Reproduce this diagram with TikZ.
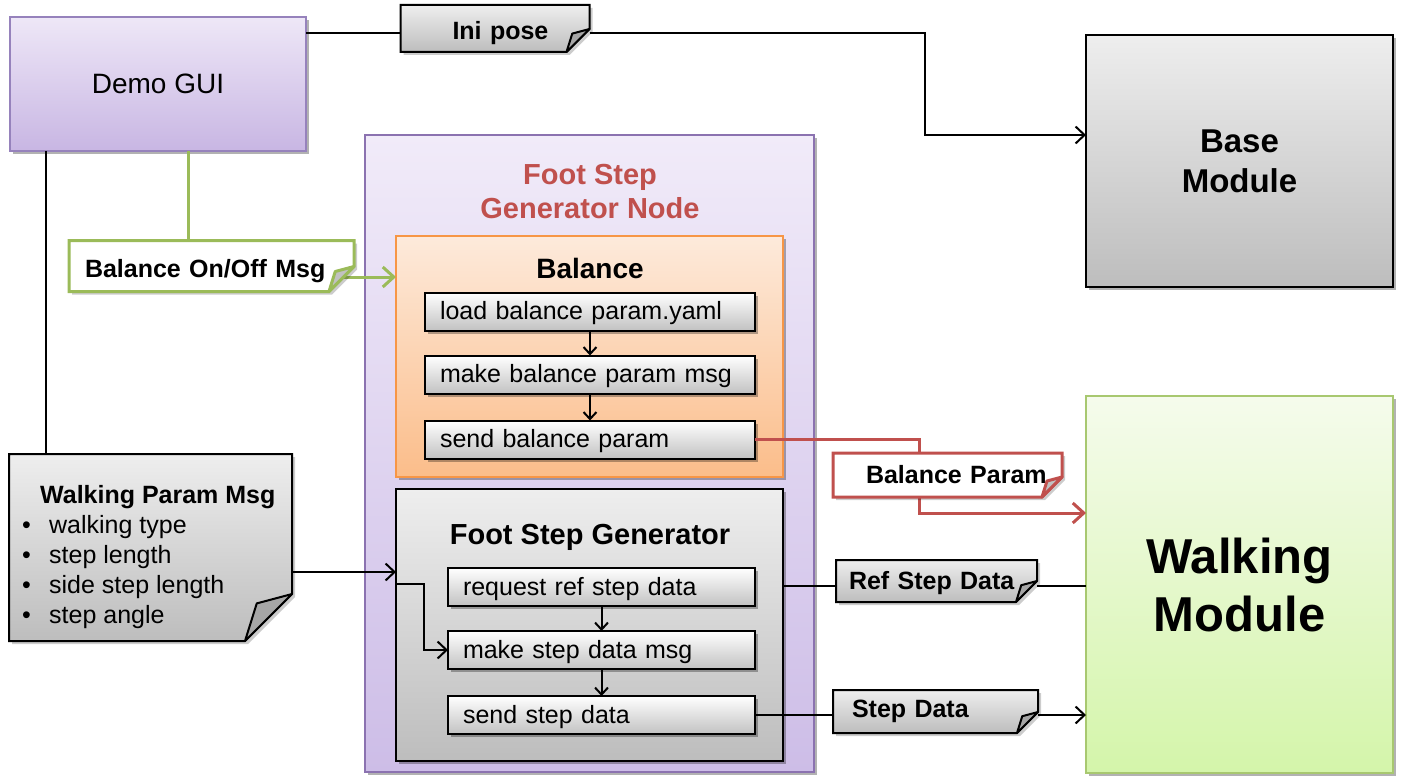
\documentclass[tikz,border=0pt]{standalone}
\usepackage{fontspec}
\setmainfont{Liberation Sans}
\usetikzlibrary{arrows.meta,shadows,calc}
\pgfdeclarelayer{wires}
\pgfdeclarelayer{notebg}
\pgfdeclarelayer{notetop}
\pgfsetlayers{main,wires,notebg,notetop}
\definecolor{demoT}{HTML}{EEE7F7}
\definecolor{demoBt}{HTML}{C8B6E3}
\definecolor{demoB}{HTML}{9682BC}
\definecolor{fsgT}{HTML}{F1EBF9}
\definecolor{fsgBt}{HTML}{CDBDE7}
\definecolor{fsgB}{HTML}{8B72B0}
\definecolor{balT}{HTML}{FDEADB}
\definecolor{balBt}{HTML}{FBBD8A}
\definecolor{balB}{HTML}{F79646}
\definecolor{grayT}{HTML}{EEEEEE}
\definecolor{grayBt}{HTML}{BDBDBD}
\definecolor{subBt}{HTML}{C2C2C2}
\definecolor{walkT}{HTML}{F5FBEC}
\definecolor{walkBt}{HTML}{D4F5AA}
\definecolor{walkB}{HTML}{A8C870}
\definecolor{grn}{HTML}{9BBB59}
\definecolor{redd}{HTML}{C0504D}
\definecolor{flap}{HTML}{A6A6A6}
\newcommand{\fsz}[2]{\fontsize{#1pt}{#2pt}\selectfont}
% #1 node, #2 fold, #3 body options, #4 border options, #5 flap fill
\newcommand{\drawnote}[5]{%
  \fill[black,opacity=0.2] ([xshift=3pt,yshift=-3pt]#1.north west) -- ([xshift=3pt,yshift=-3pt]#1.north east) -- ([xshift=3pt,yshift=-3pt+#2]#1.south east) -- ([xshift=3pt-#2,yshift=-3pt]#1.south east) -- ([xshift=3pt,yshift=-3pt]#1.south west) -- cycle;
  \path[#3] (#1.north west) -- (#1.north east) -- ([yshift=#2]#1.south east) -- ([xshift=-#2]#1.south east) -- (#1.south west) -- cycle;
  \path[#4] (#1.north west) -- (#1.north east) -- ([yshift=#2]#1.south east) -- ([xshift=-#2]#1.south east) -- (#1.south west) -- cycle;
  \path[#4,fill=#5,line join=round] ([yshift=#2]#1.south east) -- ([xshift=-0.75*#2,yshift=0.8*#2]#1.south east) -- ([xshift=-#2]#1.south east) -- cycle;
}
\begin{document}
\begin{tikzpicture}[x=1pt,y=-1pt,
  box/.style={rectangle,inner sep=0pt,outer sep=0pt,line width=1.5pt},
  shadowed/.style={drop shadow={shadow xshift=3pt,shadow yshift=-3pt,opacity=0.3,fill=black}},
  graybox/.style={box,shadowed,draw=black,line width=2pt,top color=grayT,bottom color=grayBt},
  subbox/.style={box,shadowed,draw=black,line width=2pt,top color=white,bottom color=subBt,minimum height=38pt,inner xsep=15pt,text height=19pt,text depth=3pt,align=left,font=\fsz{25}{30}},
  notebox/.style={rectangle,inner sep=0pt,outer sep=0pt,align=left,font=\bfseries\fsz{25}{30}},
  wire/.style={line width=2pt,draw=black},
  arr/.style={-{Straight Barb[length=9pt,width=17pt]}},
  smallarr/.style={-{Straight Barb[length=7pt,width=13pt]}},
  fatarr/.style={-{Straight Barb[length=11pt,width=20pt]}}
]
\useasboundingbox (0,0) rectangle (1401,784);

% ---- main boxes ----
\node[box,shadowed,draw=demoB,top color=demoT,bottom color=demoBt,minimum width=296pt,minimum height=134pt,font=\fsz{28}{34}] (demo) at (158,84) {Demo GUI};

\node[box,shadowed,draw=fsgB,top color=fsgT,bottom color=fsgBt,minimum width=449pt,minimum height=637pt] (fsgnode) at (589.5,453.5) {};
\node[align=center,font=\bfseries\fsz{29}{34},text=redd,inner sep=0pt] (fsgtitle) at (590,192) {Foot Step\\Generator Node};

\node[box,shadowed,draw=balB,top color=balT,bottom color=balBt,minimum width=387pt,minimum height=241pt] (balance) at (589.5,356.5) {};
\node[font=\bfseries\fsz{28}{34},inner sep=0pt] (baltitle) at (590,268) {Balance};
\node[subbox,text width=300pt] (loadbal) at (590,311.5) {load balance param.yaml};
\node[subbox,text width=300pt] (mkbal) at (590,374.5) {make balance param msg};
\node[subbox,text width=300pt] (sendbal) at (590,439.5) {send balance param};

\node[graybox,minimum width=387pt,minimum height=272pt] (fsg) at (589.5,625) {};
\node[font=\bfseries\fsz{29}{34},inner sep=0pt] (fsgsub) at (590,537) {Foot Step Generator};
\node[subbox,text width=277pt] (reqstep) at (601.5,587) {request ref step data};
\node[subbox,text width=277pt] (mkstep) at (601.5,650) {make step data msg};
\node[subbox,text width=277pt] (sendstep) at (601.5,715) {send step data};

\node[graybox,minimum width=307pt,minimum height=252pt,align=center,font=\bfseries\fsz{33}{40}] (base) at (1239.5,161) {Base\\Module};
\node[box,shadowed,draw=walkB,top color=walkT,bottom color=walkBt,minimum width=307pt,minimum height=377pt,align=center,font=\bfseries\fsz{49}{58}] (walk) at (1239.5,584.5) {Walking\\Module};

% ---- notes (text) ----
\begin{pgfonlayer}{notetop}
\node[notebox,minimum height=47pt,text width=189pt,text height=25pt,text depth=2pt] (ini) at (495,28.5) {\hspace*{52pt}Ini pose};
\node[notebox,minimum height=51pt,text width=285pt,text height=24pt,text depth=2pt] (balmsg) at (211.5,266) {\hspace*{16pt}Balance On/Off Msg};
\node[notebox,minimum height=44pt,text width=229pt] (balpar) at (947.5,475) {\hspace*{33pt}Balance Param};
\node[notebox,minimum height=42pt,text width=201pt,text height=19pt,text depth=2pt] (refsd) at (936.5,581) {\hspace*{13pt}Ref Step Data};
\node[notebox,minimum height=43pt,text width=205pt] (stepd) at (935.5,711.5) {\hspace*{19pt}Step Data};
\node[notebox,minimum height=187pt,minimum width=283pt] (walkp) at (150.5,547.5) {};
\node[anchor=north west,inner sep=0pt,align=left,font=\fsz{25}{30}] (walkptext) at (22,485) {\hspace*{18pt}\textbf{Walking Param Msg}\\\makebox[27pt][l]{•}walking type\\\makebox[27pt][l]{•}step length\\\makebox[27pt][l]{•}side step length\\\makebox[27pt][l]{•}step angle};
\end{pgfonlayer}

% ---- note shapes ----
\begin{pgfonlayer}{notebg}
\drawnote{ini}{23pt}{top color=grayT,bottom color=grayBt}{draw=black,line width=2pt}{flap}
\drawnote{refsd}{21pt}{top color=grayT,bottom color=grayBt}{draw=black,line width=2pt}{flap}
\drawnote{stepd}{21pt}{top color=grayT,bottom color=grayBt}{draw=black,line width=2pt}{flap}
\drawnote{walkp}{47pt}{top color=grayT,bottom color=grayBt}{draw=black,line width=2pt}{flap}
\drawnote{balmsg}{25pt}{fill=white}{draw=grn,line width=3pt}{flap!70}
\drawnote{balpar}{20pt}{fill=white}{draw=redd,line width=3pt}{flap!70}
\end{pgfonlayer}

% ---- connectors ----
\begin{pgfonlayer}{wires}
\draw[wire] ([yshift=-5pt]ini.west -| demo.east) -- ([yshift=-5pt]ini.west);
\draw[wire,arr] ([yshift=-5pt]ini.east) -- ++(335,0) |- ([yshift=26pt]base.west);
\draw[wire] ([xshift=36pt]demo.south west) -- ([xshift=36pt]demo.south west |- walkp.north);
\draw[grn,line width=3pt] ([xshift=178pt]demo.south west) -- ([xshift=178pt]demo.south west |- balmsg.north);
\draw[grn,line width=3pt,fatarr] ([xshift=-10pt,yshift=-11pt]balmsg.east) -- ([yshift=-11pt]balmsg.east -| balance.west);
\draw[redd,line width=3pt,fatarr] (sendbal.east) -- ++(164,0) |- ([yshift=71.5pt]walk.west);
\draw[wire,smallarr] (loadbal.south) -- (mkbal.north);
\draw[wire,smallarr] (mkbal.south) -- (sendbal.north);
\draw[wire,smallarr] (reqstep.south) -- (mkstep.north);
\draw[wire,smallarr] (mkstep.south) -- (sendstep.north);
\draw[wire,arr] ([yshift=-24.5pt]walkp.east) -- ([yshift=-24.5pt]walkp.east -| fsg.west);
\draw[wire,arr] ([yshift=41pt]fsg.west) -- ++(28,0) |- (mkstep.west);
\draw[wire] ([yshift=-5pt]refsd.west -| fsg.east) -- ([yshift=-5pt]refsd.west);
\draw[wire] ([yshift=-5pt]refsd.east) -- ([yshift=-5pt]refsd.east -| walk.west);
\draw[wire] (sendstep.east) -- (sendstep.east -| stepd.west);
\draw[wire,arr] (sendstep.east -| stepd.east) -- (sendstep.east -| walk.west);
\end{pgfonlayer}
\end{tikzpicture}
\end{document}
